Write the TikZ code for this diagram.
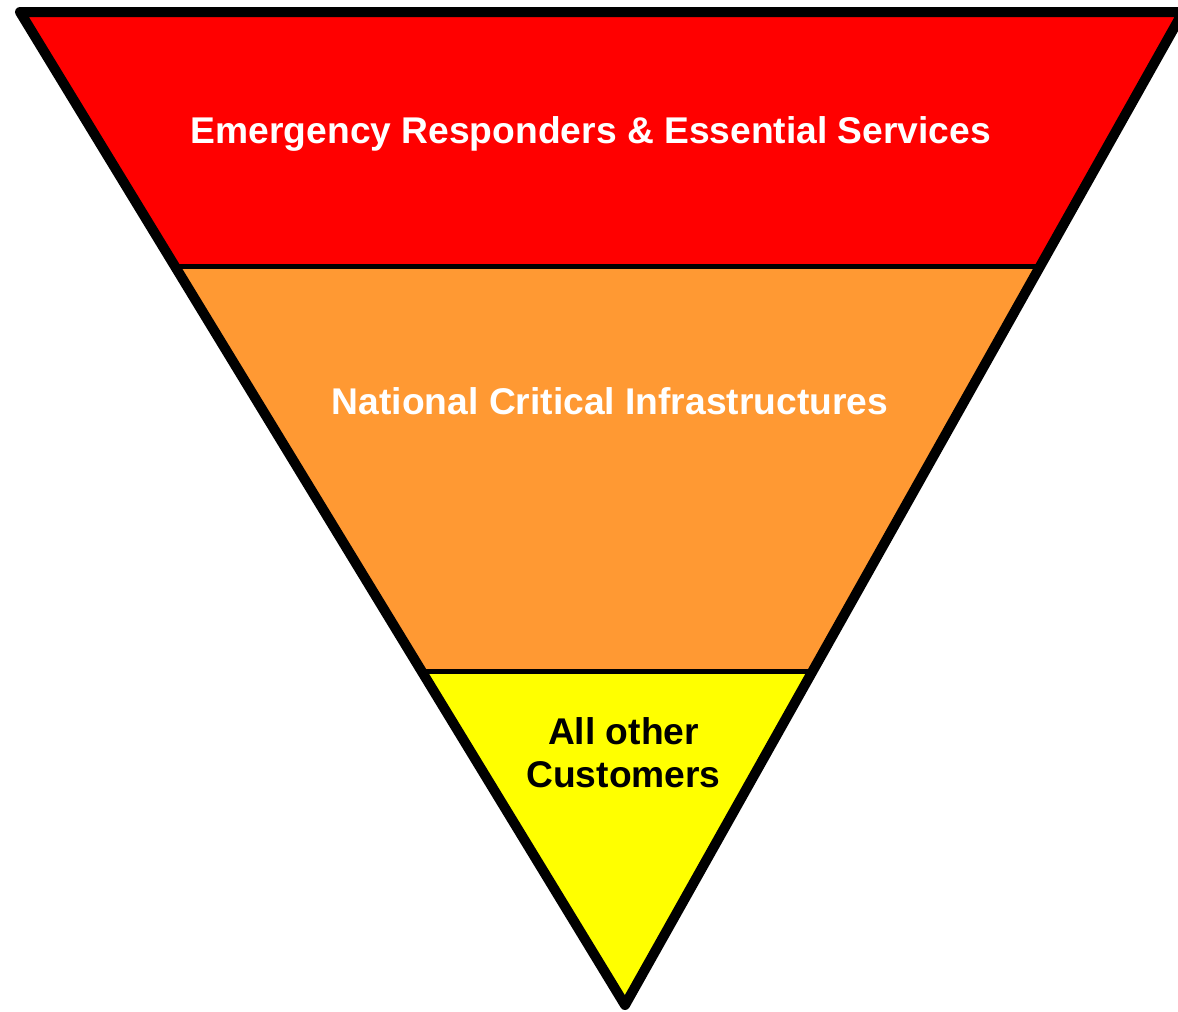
\documentclass[tikz,border=0pt]{standalone}
\usepackage{fontspec}
\setmainfont{Liberation Sans}
\begin{document}
\begin{tikzpicture}[x=1pt,y=-1pt,
  band/.style={draw=none},
  sep/.style={line width=5pt},
  outline/.style={line width=10pt,line join=round},
  lbl/.style={font=\fontsize{37.2}{43}\selectfont\bfseries,align=center,anchor=base,inner sep=0pt}]
\useasboundingbox (0,0) rectangle (1178,1012);
\coordinate (TL) at (20,12);
\coordinate (TR) at (1183,12);
\coordinate (AP) at (625,1005);
\coordinate (L1) at (175,266);
\coordinate (R1) at (1040,266);
\coordinate (L2) at (423,671);
\coordinate (R2) at (812,671);
\fill[band,fill={rgb,255:red,255;green,0;blue,0}] (TL) -- (TR) -- (R1) -- (L1) -- cycle;
\fill[band,fill={rgb,255:red,255;green,153;blue,51}] (L1) -- (R1) -- (R2) -- (L2) -- cycle;
\fill[band,fill={rgb,255:red,255;green,255;blue,0}] (L2) -- (R2) -- (AP) -- cycle;
\draw[sep] (L1) -- (R1);
\draw[sep] (L2) -- (R2);
\draw[outline] (TL) -- (TR) -- (AP) -- cycle;
\node[lbl,text=white] (t1) at (591,143.5) {Emergency Responders \& Essential Services};
\node[lbl,text=white] (t2) at (610,414.5) {National Critical Infrastructures};
\node[lbl,text=black,anchor=north] (t3) at (623.5,717.5) {All other\\Customers};
\end{tikzpicture}
\end{document}
